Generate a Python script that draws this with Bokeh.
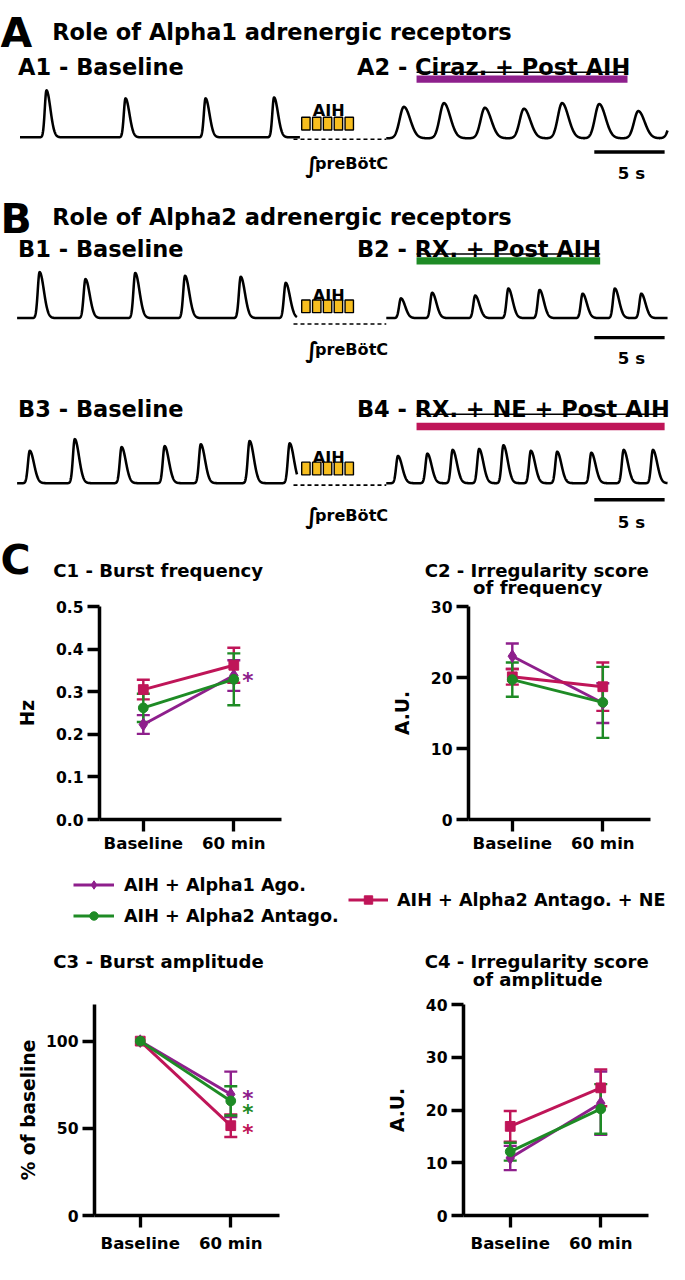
import numpy as np
from bokeh.plotting import figure
from bokeh.layouts import column, row
from bokeh.models import (Range1d, FixedTicker, Whisker, TeeHead, ColumnDataSource,
                          Legend, LegendItem, NumeralTickFormatter)
from bokeh.core.properties import value
from bokeh.embed import file_html
from bokeh.resources import INLINE

# ---------------- data ----------------
groups = ["AIH + Alpha1 Ago.", "AIH + Alpha2 Antago.", "AIH + Alpha2 Antago. + NE"]
timepoints = ["Baseline", "60 min"]

# C1 - burst frequency (Hz), mean and SEM at Baseline / 60 min
c1_alpha1_mean = [0.223, 0.338]
c1_alpha1_sem = [0.022, 0.036]
c1_alpha2_mean = [0.262, 0.329]
c1_alpha2_sem = [0.033, 0.061]
c1_alpha2ne_mean = [0.305, 0.362]
c1_alpha2ne_sem = [0.023, 0.041]
c1_ticks = [0.0, 0.1, 0.2, 0.3, 0.4, 0.5]
c1_sig = [True, False, False]

# C2 - irregularity score of frequency (A.U.)
c2_alpha1_mean = [23.0, 16.4]
c2_alpha1_sem = [1.8, 2.8]
c2_alpha2_mean = [19.7, 16.5]
c2_alpha2_sem = [2.4, 5.0]
c2_alpha2ne_mean = [20.1, 18.7]
c2_alpha2ne_sem = [1.1, 3.4]
c2_ticks = [0, 10, 20, 30]

# C3 - burst amplitude (% of baseline)
c3_alpha1_mean = [100, 69.5]
c3_alpha1_sem = [0, 13.0]
c3_alpha2_mean = [100, 65.7]
c3_alpha2_sem = [0, 8.4]
c3_alpha2ne_mean = [100, 51.5]
c3_alpha2ne_sem = [0, 6.5]
c3_ticks = [0, 50, 100]
c3_sig = [True, True, True]

# C4 - irregularity score of amplitude (A.U.)
c4_alpha1_mean = [10.9, 21.3]
c4_alpha1_sem = [2.3, 6.0]
c4_alpha2_mean = [12.1, 20.2]
c4_alpha2_sem = [1.7, 4.7]
c4_alpha2ne_mean = [16.9, 24.2]
c4_alpha2ne_sem = [2.9, 3.5]
c4_ticks = [0, 10, 20, 30, 40]

# traces: burst peak times (s) and relative amplitudes
a1_peaks = [1.88, 7.50, 13.19, 18.06]
a1_amps = [1.0, 0.83, 0.83, 0.85]
a2_peaks = [1.25, 4.10, 7.01, 9.79, 12.50, 15.14, 17.92, 20.49]
a2_amps = [0.67, 0.75, 0.65, 0.63, 0.75, 0.73, 0.58, 0.63]
b1_peaks = [1.60, 4.86, 8.40, 11.94, 15.90, 19.10]
b1_amps = [0.98, 0.83, 0.96, 0.90, 0.88, 0.75]
b2_peaks = [1.04, 3.26, 6.32, 8.68, 10.90, 13.96, 16.25, 18.13]
b2_amps = [0.42, 0.54, 0.48, 0.63, 0.60, 0.52, 0.63, 0.52]
b3_peaks = [0.90, 4.10, 7.43, 10.49, 13.06, 16.53, 19.38]
b3_amps = [0.69, 0.94, 0.77, 0.79, 0.83, 0.90, 0.85]
b4_peaks = [0.83, 2.92, 4.72, 6.60, 8.33, 10.28, 12.15, 14.58, 16.88, 18.96]
b4_amps = [0.58, 0.63, 0.71, 0.73, 0.81, 0.69, 0.67, 0.65, 0.71, 0.71]
trace_left_s = 19.9
trace_right_s = 20.0
scale_bar_s = 5

# ---------------- style ----------------
S = 669 / 685
FONT = "DejaVu Sans"
PURPLE = "#8E1F8C"
GREEN = "#1E8B25"
CRIMSON = "#BF1558"
YELLOW = "#F7BE1F"
MARKERS = ["diamond", "circle", "square"]
MSIZE = [13, 10, 10]
COLORS = [PURPLE, GREEN, CRIMSON]


def fs(v):
    return f"{v * S:.1f}px"


def ip(v):
    return int(round(v * S))


def lw(v):
    return round(v * S, 2)


def bare(w, y0, y1):
    p = figure(width=ip(w), height=ip(y1 - y0), x_range=Range1d(0, w), y_range=Range1d(y1, y0),
               x_axis_type=None, y_axis_type=None, output_backend="svg", toolbar_location=None,
               min_border=0, outline_line_color=None)
    return p


def label(p, x, y, t, size, align="left", color="black"):
    p.text(x=[x], y=[y], text=[t], text_font=value(FONT), text_font_style="bold",
           text_font_size=fs(size), text_align=align, text_baseline="alphabetic",
           text_color=color)


PPS, GAIN = 14.4, 48


def draw_trace(p, x0, base, peaks, amps, dur, sr, sd):
    t = np.linspace(0, dur, 1500)
    y = np.zeros_like(t)
    for tp, a in zip(peaks, amps):
        d = t - tp
        y += a * np.exp(-0.5 * (d / np.where(d < 0, sr, sd)) ** 2)
    p.line(x0 + t * PPS, base - y * GAIN, line_color="black", line_width=lw(2.6),
           line_join="round")


def aih_block(p, text_base, box_top, dash_y, integ_base):
    label(p, 336, text_base, "AIH", 16.5, align="center")
    xs = [308 + 4.7 + 11.1 * i for i in range(5)]
    p.rect(x=xs, y=[box_top + 7] * 5, width=8.6, height=13, fill_color=YELLOW,
           line_color="black", line_width=lw(1.4))
    p.line([300, 395], [dash_y, dash_y], line_dash="4 3", line_width=lw(1.6), line_color="black")
    label(p, 312, integ_base + 1, "\u222b", 23)
    label(p, 322, integ_base, "preB\u00f6tC", 16.5)


def scale_bar(p, y, text_base):
    p.line([680 - scale_bar_s * PPS, 680], [y, y], line_width=lw(3.5), line_color="black")
    label(p, 646, text_base, f"{scale_bar_s} s", 17, align="center")


def bar_under(p, x0, x1, y_ul, y_bar, color):
    p.line([x0, x1], [y_ul, y_ul], line_width=lw(1.5), line_color="black")
    p.line([x0, x1], [y_bar, y_bar], line_width=lw(7.5), line_color=color)


# ---------------- top part (traces) ----------------
TOP_H = 611
top = bare(685, 0, TOP_H)

label(top, 0, 33, "A", 42)
label(top, 53, 32, "Role of Alpha1 adrenergic receptors", 23)
label(top, 18, 68, "A1 - Baseline", 23)
label(top, 365, 68, "A2 - Ciraz. + Post AIH", 23)
bar_under(top, 426, 642, 73.5, 80.5, PURPLE)
draw_trace(top, 20, 140, a1_peaks, a1_amps, trace_left_s, 0.12, 0.28)
draw_trace(top, 395, 141, a2_peaks, a2_amps, trace_right_s, 0.30, 0.45)
aih_block(top, 113, 119, 142, 167)
scale_bar(top, 155, 177)

label(top, 0, 224, "B", 42)
label(top, 53, 222, "Role of Alpha2 adrenergic receptors", 23)
label(top, 18, 254, "B1 - Baseline", 23)
label(top, 365, 254, "B2 - RX. + Post AIH", 23)
bar_under(top, 426, 614, 259.5, 266.5, GREEN)
draw_trace(top, 17, 325, b1_peaks, b1_amps, trace_left_s, 0.13, 0.30)
draw_trace(top, 395, 325, b2_peaks, b2_amps, trace_right_s, 0.13, 0.30)
aih_block(top, 302, 306, 331, 357)
scale_bar(top, 345, 366)

label(top, 18, 418, "B3 - Baseline", 23)
label(top, 365, 418, "B4 - RX. + NE + Post AIH", 23)
bar_under(top, 426, 680, 423.5, 436, CRIMSON)
draw_trace(top, 17, 494, b3_peaks, b3_amps, trace_left_s, 0.13, 0.30)
draw_trace(top, 395, 494, b4_peaks, b4_amps, trace_right_s, 0.13, 0.30)
aih_block(top, 468, 472, 496, 527)
scale_bar(top, 511, 534)

label(top, 0, 573, "C", 42)
label(top, 54, 583, "C1 - Burst frequency", 18.5)
label(top, 549, 583, "C2 - Irregularity score", 18.5, align="center")
label(top, 550, 601, "of frequency", 18.5, align="center")


# ---------------- C panels ----------------
def cpanel(w, h, bl, br, bt, bb, xr, yr, ticks, ylabel, als, xstand, fmt=None):
    p = figure(width=ip(w), height=ip(h), x_range=Range1d(*xr), y_range=Range1d(*yr),
               output_backend="svg", toolbar_location=None,
               min_border_left=ip(bl), min_border_right=ip(br),
               min_border_top=ip(bt), min_border_bottom=ip(bb), outline_line_color=None)
    p.grid.visible = False
    xa, ya = p.xaxis[0], p.yaxis[0]
    xa.ticker = FixedTicker(ticks=[0, 1])
    xa.major_label_overrides = {0: timepoints[0], 1: timepoints[1]}
    xa.major_label_standoff = ip(xstand)
    xa.major_label_text_font_size = fs(17)
    ya.ticker = FixedTicker(ticks=ticks)
    if fmt:
        ya.formatter = NumeralTickFormatter(format=fmt)
    ya.axis_label = ylabel
    ya.axis_label_standoff = ip(als)
    ya.major_label_standoff = ip(4)
    ya.major_label_text_font_size = fs(16)
    for ax in (xa, ya):
        ax.axis_line_width = lw(3.6)
        ax.major_tick_line_width = lw(3.4)
        ax.major_tick_out = ip(12)
        ax.major_tick_in = 0
        ax.minor_tick_line_color = None
        ax.major_label_text_font = FONT
        ax.major_label_text_font_style = "bold"
        ax.major_label_text_color = "black"
        ax.axis_label_text_font = FONT
        ax.axis_label_text_font_style = "bold"
        ax.axis_label_text_font_size = fs(19)
        ax.axis_label_text_color = "black"
    return p


def add_series(p, means, sems, color, marker, msize):
    x = [0, 1]
    p.line(x, means, line_color=color, line_width=lw(3))
    keep = [i for i, e in enumerate(sems) if e > 0]
    src = ColumnDataSource(dict(x=[x[i] for i in keep],
                                lo=[means[i] - sems[i] for i in keep],
                                hi=[means[i] + sems[i] for i in keep]))
    head = dict(size=ip(13), line_color=color, line_width=lw(2.5))
    p.add_layout(Whisker(source=src, base="x", lower="lo", upper="hi", line_color=color,
                         line_width=lw(2.5), upper_head=TeeHead(**head),
                         lower_head=TeeHead(**head)))
    p.scatter(x, means, marker=marker, size=msize * S, fill_color=color, line_color=color)


def add_sig(p, means_list, sig, x_off, y_offs):
    for m, c, sg, yo in zip(means_list, COLORS, sig, y_offs):
        if sg:
            p.text(x=[1], y=[m[1]], text=["*"], text_font=value(FONT), text_font_style="bold",
                   text_font_size=fs(22), text_color=c, text_align="center",
                   text_baseline="middle", x_offset=ip(x_off), y_offset=ip(yo))


ROW1_T, ROW1_B = TOP_H, 882
c1 = cpanel(342, ROW1_B - ROW1_T, 101, 54, 620 - ROW1_T, ROW1_B - 838,
            (-0.484, 1.527), (0, 0.5), c1_ticks, "Hz", 15, 2, fmt="0.0")
c2 = cpanel(343, ROW1_B - ROW1_T, 137, 19, 620 - ROW1_T, ROW1_B - 838,
            (-0.484, 1.527), (0, 30), c2_ticks, "A.U.", 15, 2)

c1_means = [c1_alpha1_mean, c1_alpha2_mean, c1_alpha2ne_mean]
c1_sems = [c1_alpha1_sem, c1_alpha2_sem, c1_alpha2ne_sem]
c2_means = [c2_alpha1_mean, c2_alpha2_mean, c2_alpha2ne_mean]
c2_sems = [c2_alpha1_sem, c2_alpha2_sem, c2_alpha2ne_sem]
c3_means = [c3_alpha1_mean, c3_alpha2_mean, c3_alpha2ne_mean]
c3_sems = [c3_alpha1_sem, c3_alpha2_sem, c3_alpha2ne_sem]
c4_means = [c4_alpha1_mean, c4_alpha2_mean, c4_alpha2ne_mean]
c4_sems = [c4_alpha1_sem, c4_alpha2_sem, c4_alpha2ne_sem]

ORDER = [0, 2, 1]
for p, ms, ss in ((c1, c1_means, c1_sems), (c2, c2_means, c2_sems)):
    for i in ORDER:
        add_series(p, ms[i], ss[i], COLORS[i], MARKERS[i], MSIZE[i])
add_sig(c1, c1_means, c1_sig, 14, [5, 5, 5])

# ---------------- legend strip ----------------
MID_T, MID_B = ROW1_B, 1012
mid = bare(685, MID_T, MID_B)


def legend_renderers(color, marker, msize):
    l = mid.line(x=[np.nan], y=[np.nan], line_color=color, line_width=lw(3))
    m = mid.scatter(x=[np.nan], y=[np.nan], marker=marker, size=msize * S,
                    fill_color=color, line_color=color)
    return [l, m]


leg_r = [legend_renderers(COLORS[i], MARKERS[i], MSIZE[i]) for i in range(3)]
common = dict(glyph_height=ip(21), label_height=ip(21), padding=0, margin=0,
              border_line_color=None, background_fill_alpha=0, label_text_font=FONT,
              label_text_font_style="bold", label_text_font_size=fs(18),
              label_text_color="black")
leg1 = Legend(items=[LegendItem(label=groups[0], renderers=leg_r[0]),
                     LegendItem(label=groups[1], renderers=leg_r[1])],
              location=(ip(75), ip(MID_B - 947)), glyph_width=ip(42), label_standoff=ip(10),
              spacing=ip(10), **common)
leg2 = Legend(items=[LegendItem(label=groups[2], renderers=leg_r[2])],
              location=(ip(356), ip(MID_B - 931)), glyph_width=ip(41), label_standoff=ip(9),
              **common)
mid.add_layout(leg1)
mid.add_layout(leg2)

label(mid, 54, 983, "C3 - Burst amplitude", 18.5)
label(mid, 549, 983, "C4 - Irregularity score", 18.5, align="center")
label(mid, 550, 1002, "of amplitude", 18.5, align="center")

# ---------------- second row of panels ----------------
ROW2_T, ROW2_B = MID_B, 1290
c3 = cpanel(342, ROW2_B - ROW2_T, 96, 56, 1025 - ROW2_T, ROW2_B - 1243,
            (-0.505, 1.538), (0, 121), c3_ticks, "% of baseline", 4, 6)
c4 = cpanel(343, ROW2_B - ROW2_T, 132, 21, 1027 - ROW2_T, ROW2_B - 1244,
            (-0.516, 1.527), (0, 40), c4_ticks, "A.U.", 15, 6)
for p, ms, ss in ((c3, c3_means, c3_sems), (c4, c4_means, c4_sems)):
    for i in ORDER:
        add_series(p, ms[i], ss[i], COLORS[i], MARKERS[i], MSIZE[i])
add_sig(c3, c3_means, c3_sig, 17, [4, 12, 7])

layout = column(top, row(c1, c2), mid, row(c3, c4))
open("out.html", "w").write(file_html(layout, INLINE, title="Adrenergic receptors and AIH"))
